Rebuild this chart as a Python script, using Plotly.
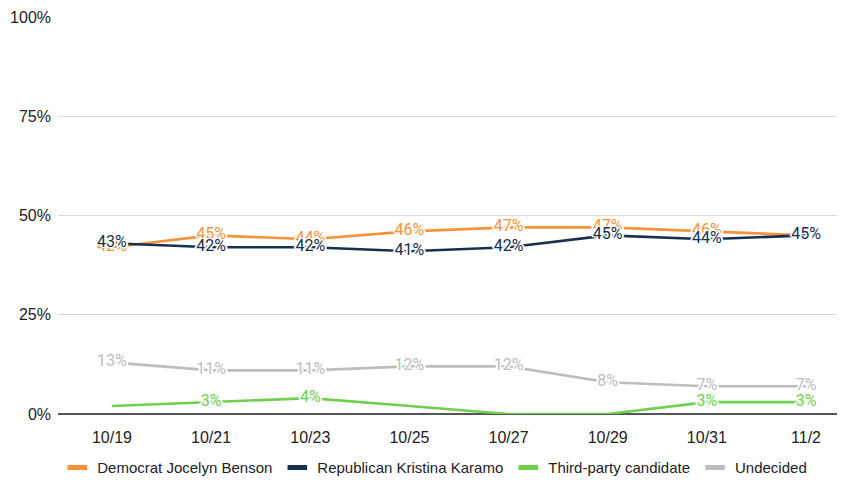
import plotly.graph_objects as go

dates = ["10/19", "10/21", "10/23", "10/25", "10/27", "10/29", "10/31", "11/2"]
benson = [42, 45, 44, 46, 47, 47, 46, 45]
karamo = [43, 42, 42, 41, 42, 45, 44, 45]
third = [2, 3, 4, 2, 0, 0, 3, 3]
undecided = [13, 11, 11, 12, 12, 8, 7, 7]

benson_show = [1, 1, 1, 1, 1, 1, 1, 0]
karamo_show = [1, 1, 1, 1, 1, 1, 1, 1]
third_show = [0, 1, 1, 0, 0, 0, 1, 1]
undecided_show = [1, 1, 1, 1, 1, 1, 1, 1]

y_ticks = [0, 25, 50, 75, 100]

series = [
    ("Undecided", undecided, undecided_show, "#BDBDBD"),
    ("Third-party candidate", third, third_show, "#6FCF4F"),
    ("Democrat Jocelyn Benson", benson, benson_show, "#F4933B"),
    ("Republican Kristina Karamo", karamo, karamo_show, "#17304E"),
]
legend_order = ["Democrat Jocelyn Benson", "Republican Kristina Karamo", "Third-party candidate", "Undecided"]

xs = list(range(len(dates)))
halo = "1px 0 0 #fff, -1px 0 0 #fff, 0 1px 0 #fff, 0 -1px 0 #fff, 1px 1px 0 #fff, -1px -1px 0 #fff, 1px -1px 0 #fff, -1px 1px 0 #fff, 2px 0 0 #fff, -2px 0 0 #fff"

fig = go.Figure()
for name, vals, show, color in series:
    fig.add_trace(go.Scatter(
        x=xs, y=vals, mode="lines+text", name=name, showlegend=False,
        text=[f"{v}%" if s else "" for v, s in zip(vals, show)],
        textposition="middle center",
        textfont=dict(family="Roboto", size=16, color=color, shadow=halo),
        line=dict(color=color, width=2.6),
        cliponaxis=False,
    ))

colors = {n: c for n, _, _, c in series}
for name in legend_order:
    fig.add_trace(go.Scatter(
        x=[None], y=[None], mode="markers", name=name,
        marker=dict(symbol="line-ew", size=14, line=dict(color=colors[name], width=5)),
    ))

fig.update_layout(
    width=845, height=480,
    margin=dict(l=50, r=10, t=9, b=74, autoexpand=False),
    paper_bgcolor="white", plot_bgcolor="white",
    showlegend=True,
    legend=dict(orientation="h", x=0.505, xref="container", xanchor="center",
                y=0.042, yref="container", yanchor="middle",
                font=dict(family="Liberation Sans", size=15, color="#222"),
                itemsizing="trace", tracegroupgap=0),
    xaxis=dict(range=[-0.544, 7.373], tickmode="array", tickvals=xs, ticktext=dates,
               showgrid=False, zeroline=False, showline=False, ticks="",
               ticklabelstandoff=12,
               tickfont=dict(family="Liberation Sans", size=16, color="#222")),
    yaxis=dict(range=[0, 100], tickmode="array", tickvals=y_ticks,
               ticktext=[f"{t}%" for t in y_ticks],
               showgrid=True, gridcolor="#D9D9D9", gridwidth=1,
               zeroline=True, zerolinecolor="#555", zerolinewidth=1.5,
               ticks="", ticklabelstandoff=6,
               tickfont=dict(family="Liberation Sans", size=16, color="#222")),
)

fig.write_html("out.html")
